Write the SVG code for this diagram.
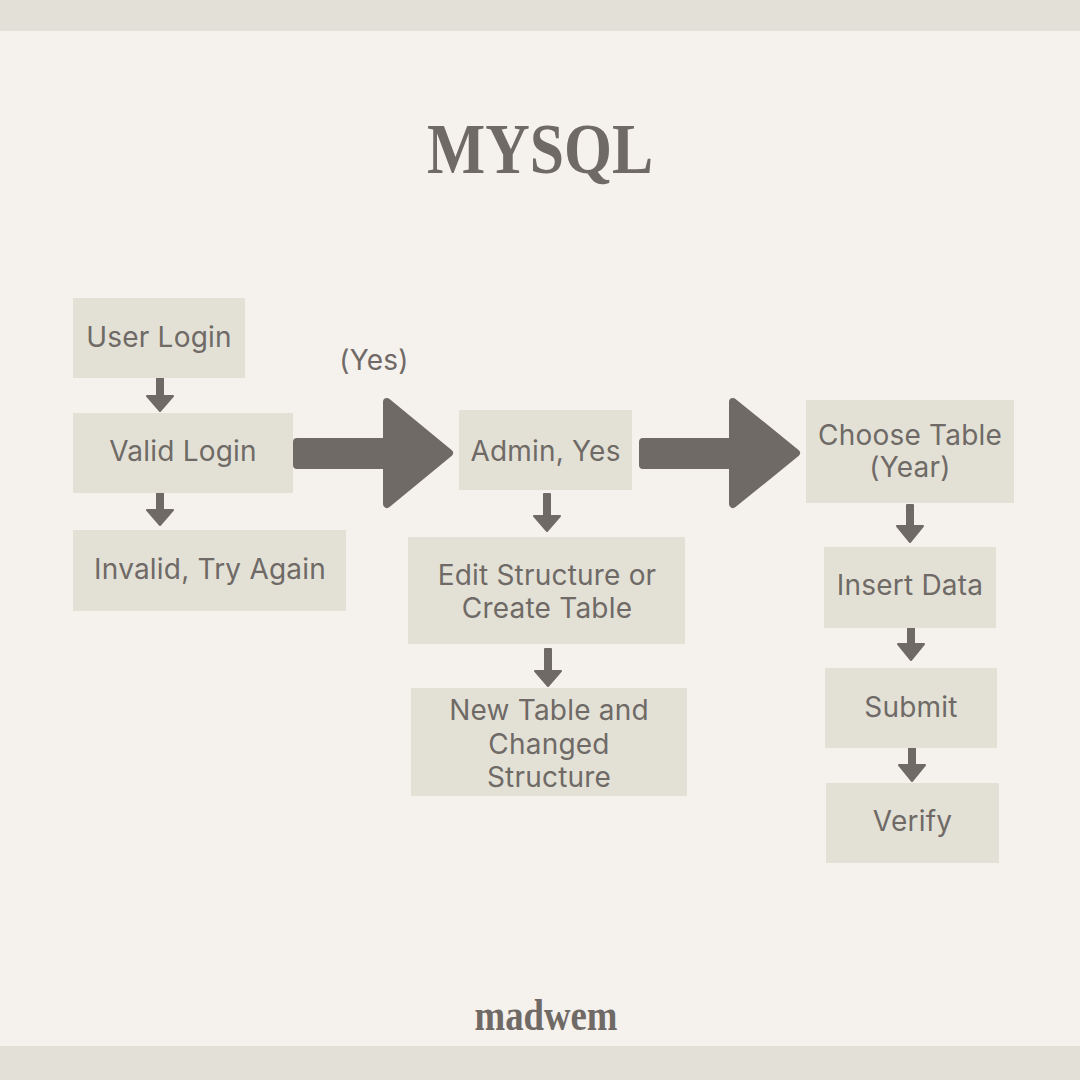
<svg xmlns="http://www.w3.org/2000/svg" width="1080" height="1080" viewBox="0 0 1080 1080">
<defs>
<style>
.bg{fill:#F5F1ED}
.band{fill:#E3E1D7}
.box{fill:#E3E1D6}
.lbl{font-family:Inter,"DejaVu Sans",sans-serif;font-size:28px;letter-spacing:0.2px;fill:#6F6A66;text-anchor:middle}
.arr{fill:#6F6A66;stroke:#6F6A66;stroke-linejoin:round}
.small{stroke-width:2}
.big{stroke-width:8}
.title{font-family:"Liberation Serif","DejaVu Serif",serif;font-weight:bold;fill:#6F6A66;text-anchor:middle}
</style>
</defs>
<rect class="bg" x="0" y="0" width="1080" height="1080"/>
<rect class="band" x="0" y="0" width="1080" height="31"/>
<rect class="band" x="0" y="1046" width="1080" height="34"/>
<text class="title" x="540" y="173" font-size="72" textLength="226" lengthAdjust="spacingAndGlyphs">MYSQL</text>
<text class="title" x="546" y="1030" font-size="44" textLength="143" lengthAdjust="spacingAndGlyphs">madwem</text>

<g id="connectors">
<path class="arr big" d="M297,442 H387 V402 L449,453 L387,504 V465 H297 Z"/>
<path class="arr big" d="M643,442 H733 V402 L796,453 L733,504 V465 H643 Z"/>
<path class="arr small" d="M157,374 H163 V396 H173 L160,411 L147,396 H157 Z"/>
<path class="arr small" d="M157,488 H163 V510 H173 L160,525 L147,510 H157 Z"/>
<path class="arr small" d="M544,494 H550 V516 H560 L547,531 L534,516 H544 Z"/>
<path class="arr small" d="M545,649 H551 V671 H561 L548,686 L535,671 H545 Z"/>
<path class="arr small" d="M907,505 H913 V526 H923 L910,542 L897,526 H907 Z"/>
<path class="arr small" d="M908,623 H914 V644 H924 L911,660 L898,644 H908 Z"/>
<path class="arr small" d="M909,743 H915 V765 H925 L912,781 L899,765 H909 Z"/>
<text class="lbl" x="374" y="370">(Yes)</text>
</g>

<g id="user-login"><rect class="box" x="73" y="298" width="172" height="80"/><text class="lbl" x="159" y="347">User Login</text></g>
<g id="valid-login"><rect class="box" x="73" y="413" width="220" height="80"/><text class="lbl" x="183" y="461">Valid Login</text></g>
<g id="invalid"><rect class="box" x="73" y="530" width="273" height="81"/><text class="lbl" x="210" y="579">Invalid, Try Again</text></g>
<g id="admin"><rect class="box" x="459" y="410" width="173" height="80"/><text class="lbl" x="545.5" y="461">Admin, Yes</text></g>
<g id="edit"><rect class="box" x="408" y="537" width="277" height="107"/><text class="lbl" x="547" y="585">Edit Structure or</text><text class="lbl" x="547" y="618">Create Table</text></g>
<g id="new-table"><rect class="box" x="411" y="688" width="276" height="108"/><text class="lbl" x="549" y="720">New Table and</text><text class="lbl" x="549" y="754">Changed</text><text class="lbl" x="549" y="787">Structure</text></g>
<g id="choose"><rect class="box" x="806" y="400" width="208" height="103"/><text class="lbl" x="910" y="445">Choose Table</text><text class="lbl" x="910" y="477">(Year)</text></g>
<g id="insert"><rect class="box" x="824" y="547" width="172" height="81"/><text class="lbl" x="910" y="595">Insert Data</text></g>
<g id="submit"><rect class="box" x="825" y="668" width="172" height="80"/><text class="lbl" x="911" y="717">Submit</text></g>
<g id="verify"><rect class="box" x="826" y="783" width="173" height="80"/><text class="lbl" x="912.5" y="831">Verify</text></g>
</svg>
